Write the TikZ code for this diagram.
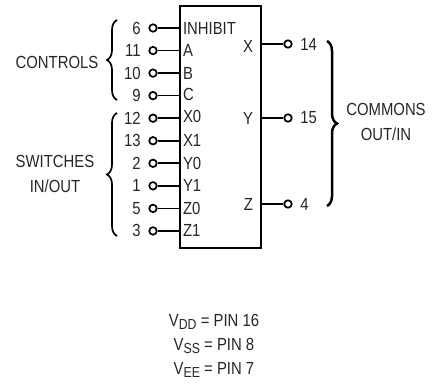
\documentclass[tikz,border=0pt]{standalone}
\usepackage{fontspec}
\setmainfont[FakeStretch=0.85]{Liberation Sans}
\usetikzlibrary{positioning,decorations.pathreplacing}
\newcommand{\subsc}[1]{\raisebox{-3pt}{\fontsize{14.5}{14.5}\selectfont #1}}

\begin{document}
\begin{tikzpicture}[x=1pt,y=1pt,node distance=22.55pt,line width=1.7pt,font=\fontsize{17.5}{24.3}\selectfont,text=black!85]
  \tikzset{
    pad/.style={circle,draw,inner sep=0pt,minimum size=7.5pt},
    num/.style={inner sep=0pt},
    pinin/.style={anchor=west,inner xsep=3pt,inner ysep=0pt},
    pinout/.style={anchor=east,inner xsep=8pt,inner ysep=0pt},
    caption/.style={align=center,inner sep=0pt},
    brace/.style={decorate,decoration={brace,amplitude=10pt},line width=1.7pt}
  }
  \useasboundingbox (0,0) rectangle (439,-385);

  \node[draw,minimum width=81pt,minimum height=242pt,inner sep=0pt] (U) at (220.5,-127) {};

  \node[pad] (c6) at (153,-28)  {};
  \node[pad] (c11) [below of=c6]  {};
  \node[pad] (c10) [below of=c11] {};
  \node[pad] (c9)  [below of=c10] {};
  \node[pad] (c12) [below of=c9]  {};
  \node[pad] (c13) [below of=c12] {};
  \node[pad] (c2)  [below of=c13] {};
  \node[pad] (c1)  [below of=c2]  {};
  \node[pad] (c5)  [below of=c1]  {};
  \node[pad] (c3)  [below of=c5]  {};
  \node[pad] (c14) at (288,-44)  {};
  \node[pad] (c15) at (288,-118) {};
  \node[pad] (c4)  at (288,-204) {};

  \node[num] (n6)  [left=7pt of c6]  {6};
  \node[num] (n11) [left=7pt of c11] {11};
  \node[num] (n10) [left=7pt of c10] {10};
  \node[num] (n9)  [left=7pt of c9]  {9};
  \node[num] (n12) [left=7pt of c12] {12};
  \node[num] (n13) [left=7pt of c13] {13};
  \node[num] (n2)  [left=7pt of c2]  {2};
  \node[num] (n1)  [left=7pt of c1]  {1};
  \node[num] (n5)  [left=7pt of c5]  {5};
  \node[num] (n3)  [left=7pt of c3]  {3};
  \node[num] (n14) [right=7pt of c14] {14};
  \node[num] (n15) [right=7pt of c15] {15};
  \node[num] (n4)  [right=7pt of c4]  {4};

  \node[pinin] (INH) at (c6 -| U.west)  {INHIBIT};
  \node[pinin] (A)   at (c11 -| U.west) {A};
  \node[pinin] (B)   at (c10 -| U.west) {B};
  \node[pinin,yshift=1pt] (C)  at (c9 -| U.west)  {C};
  \node[pinin,yshift=1.5pt] (X0) at (c12 -| U.west) {X0};
  \node[pinin] (X1)  at (c13 -| U.west) {X1};
  \node[pinin] (Y0)  at (c2 -| U.west)  {Y0};
  \node[pinin] (Y1)  at (c1 -| U.west)  {Y1};
  \node[pinin] (Z0)  at (c5 -| U.west)  {Z0};
  \node[pinin] (Z1)  at (c3 -| U.west)  {Z1};
  \node[pinout,yshift=-2pt] (X)  at (c14 -| U.east) {X};
  \node[pinout] (Y)  at (c15 -| U.east) {Y};
  \node[pinout] (Z)  at (c4 -| U.east)  {Z};

  \path[draw] (c6)  edge (INH.west)
        (c11) edge (A.west)
        (c10) edge (B.west)
        (c9)  edge (c9 -| U.west)
        (c12) edge (c12 -| U.west)
        (c13) edge (X1.west)
        (c2)  edge (Y0.west)
        (c1)  edge (Y1.west)
        (c5)  edge (Z0.west)
        (c3)  edge (Z1.west)
        (c14) edge (c14 -| U.east)
        (c15) edge (c15 -| U.east)
        (c4)  edge (c4 -| U.east);

  \coordinate (b1) at (117,-100);
  \coordinate (b2) at (117,-20);
  \coordinate (b3) at (117,-236);
  \coordinate (b4) at (117,-113);
  \coordinate (b5) at (327,-41);
  \coordinate (b6) at (327,-206);
  \draw[brace] (b1) -- (b2);
  \draw[brace] (b3) -- (b4);
  \draw[brace,line width=2.5pt] (b5) -- (b6);

  \node[caption] (ctl) at (57,-62)   {CONTROLS};
  \node[caption] (swi) at (55,-174)  {SWITCHES\\IN/OUT};
  \node[caption] (com) at (386,-122) {COMMONS\\OUT/IN};
  \node[caption] (pwr) at (214,-346) {V\subsc{DD} = PIN 16\\V\subsc{SS} = PIN 8\\V\subsc{EE} = PIN 7};
\end{tikzpicture}
\end{document}
